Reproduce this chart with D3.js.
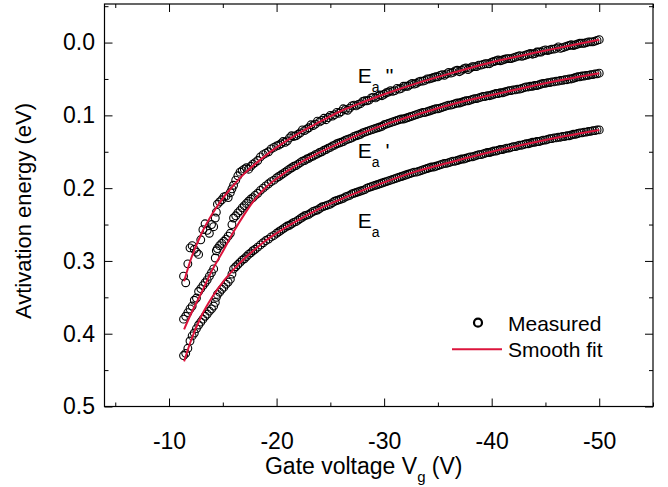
<!DOCTYPE html>
<html>
<head>
<meta charset="utf-8">
<script src="https://cdn.jsdelivr.net/npm/d3@7"></script>
<style>
  body { margin: 0; background: #fff; }
  text { font-family: "Liberation Sans", Arial, sans-serif; fill: #000; }
</style>
</head>
<body>
<svg id="chart" width="668" height="487"></svg>
<script>
// measured gate voltages (V), shared by the three series
const vg = [-11.35, -11.55, -11.75, -11.95, -12.15, -12.35, -12.55, -12.75, -12.95, -13.15,
  -13.35, -13.55, -13.75, -13.95, -14.15, -14.3, -14.4, -14.5, -14.7, -14.9,
  -15.1, -15.3, -15.5, -15.7, -15.85, -16.0, -16.2, -16.4, -16.6, -16.8,
  -17.0, -17.2, -17.4, -17.6, -17.8, -18.0, -18.25, -18.5, -18.75, -19.0,
  -19.25, -19.5, -19.75, -20.0,
  -20.2, -20.4, -20.6, -20.8, -21.0, -21.2, -21.4, -21.6, -21.8, -22.0,
  -22.2, -22.4, -22.6, -22.8, -23.0, -23.2, -23.4, -23.6, -23.8, -24.0,
  -24.2, -24.4, -24.6, -24.8, -25.0, -25.2, -25.4, -25.6, -25.8, -26.0,
  -26.2, -26.4, -26.6, -26.8, -27.0, -27.2, -27.4, -27.6, -27.8, -28.0,
  -28.2, -28.4, -28.6, -28.8, -29.0, -29.2, -29.4, -29.6, -29.8, -30.0,
  -30.2, -30.4, -30.6, -30.8, -31.0, -31.2, -31.4, -31.6, -31.8, -32.0,
  -32.2, -32.4, -32.6, -32.8, -33.0, -33.2, -33.4, -33.6, -33.8, -34.0,
  -34.2, -34.4, -34.6, -34.8, -35.0, -35.2, -35.4, -35.6, -35.8, -36.0,
  -36.2, -36.4, -36.6, -36.8, -37.0, -37.2, -37.4, -37.6, -37.8, -38.0,
  -38.2, -38.4, -38.6, -38.8, -39.0, -39.2, -39.4, -39.6, -39.8, -40.0,
  -40.2, -40.4, -40.6, -40.8, -41.0, -41.2, -41.4, -41.6, -41.8, -42.0,
  -42.2, -42.4, -42.6, -42.8, -43.0, -43.2, -43.4, -43.6, -43.8, -44.0,
  -44.2, -44.4, -44.6, -44.8, -45.0, -45.2, -45.4, -45.6, -45.8, -46.0,
  -46.2, -46.4, -46.6, -46.8, -47.0, -47.2, -47.4, -47.6, -47.8, -48.0,
  -48.2, -48.4, -48.6, -48.8, -49.0, -49.2, -49.4, -49.6, -49.8, -50.0];

// E_a (eV)
const ea = [0.430, 0.427, 0.420, 0.410, 0.403, 0.399, 0.393, 0.388, 0.384, 0.380,
  0.376, 0.373, 0.369, 0.366, 0.362, 0.357, 0.350, 0.346, 0.343, 0.339,
  0.336, 0.332, 0.329, 0.325, 0.318, 0.311, 0.308, 0.305, 0.302, 0.299,
  0.297, 0.294, 0.291, 0.289, 0.286, 0.284, 0.281, 0.278, 0.275, 0.272,
  0.270, 0.267, 0.265, 0.262,
  0.260, 0.258, 0.256, 0.254, 0.252, 0.251, 0.249, 0.247, 0.246, 0.244,
  0.242, 0.240, 0.238, 0.237, 0.236, 0.234, 0.232, 0.231, 0.230, 0.228,
  0.226, 0.225, 0.224, 0.223, 0.222, 0.220, 0.218, 0.217, 0.216, 0.215,
  0.214, 0.212, 0.211, 0.210, 0.208, 0.207, 0.206, 0.205, 0.204, 0.203,
  0.202, 0.200, 0.199, 0.198, 0.197, 0.196, 0.195, 0.194, 0.193, 0.192,
  0.191, 0.190, 0.189, 0.188, 0.187, 0.186, 0.185, 0.184, 0.183, 0.182,
  0.181, 0.180, 0.179, 0.178, 0.178, 0.177, 0.176, 0.175, 0.174, 0.173,
  0.172, 0.171, 0.171, 0.170, 0.169, 0.168, 0.167, 0.166, 0.166, 0.165,
  0.164, 0.163, 0.163, 0.162, 0.161, 0.160, 0.160, 0.159, 0.158, 0.157,
  0.157, 0.156, 0.155, 0.154, 0.154, 0.153, 0.152, 0.151, 0.151, 0.150,
  0.149, 0.149, 0.148, 0.147, 0.147, 0.146, 0.145, 0.145, 0.144, 0.143,
  0.143, 0.142, 0.141, 0.141, 0.140, 0.139, 0.139, 0.138, 0.137, 0.137,
  0.136, 0.136, 0.135, 0.134, 0.134, 0.133, 0.132, 0.132, 0.131, 0.131,
  0.130, 0.130, 0.129, 0.129, 0.128, 0.128, 0.127, 0.126, 0.126, 0.125,
  0.124, 0.124, 0.123, 0.123, 0.122, 0.122, 0.121, 0.121, 0.120, 0.120];

// E_a' (eV)
const eaP = [0.380, 0.376, 0.371, 0.366, 0.362, 0.354, 0.351, 0.342, 0.338, 0.334,
  0.330, 0.326, 0.321, 0.316, 0.311, 0.296, 0.286, 0.283, 0.279, 0.276,
  0.273, 0.270, 0.266, 0.262, 0.250, 0.241, 0.238, 0.234, 0.231, 0.227,
  0.224, 0.221, 0.218, 0.215, 0.213, 0.210, 0.207, 0.203, 0.200, 0.197,
  0.194, 0.191, 0.189, 0.186,
  0.184, 0.182, 0.180, 0.178, 0.176, 0.174, 0.172, 0.170, 0.169, 0.167,
  0.165, 0.163, 0.162, 0.160, 0.159, 0.157, 0.156, 0.154, 0.153, 0.151,
  0.150, 0.148, 0.147, 0.145, 0.144, 0.142, 0.141, 0.139, 0.138, 0.137,
  0.136, 0.134, 0.133, 0.132, 0.131, 0.129, 0.128, 0.127, 0.126, 0.124,
  0.123, 0.122, 0.121, 0.120, 0.119, 0.118, 0.117, 0.116, 0.115, 0.113,
  0.112, 0.111, 0.110, 0.109, 0.108, 0.107, 0.106, 0.105, 0.105, 0.104,
  0.103, 0.102, 0.101, 0.100, 0.099, 0.098, 0.097, 0.096, 0.096, 0.095,
  0.094, 0.093, 0.092, 0.091, 0.091, 0.090, 0.089, 0.088, 0.087, 0.086,
  0.086, 0.085, 0.084, 0.083, 0.083, 0.082, 0.081, 0.080, 0.080, 0.079,
  0.078, 0.077, 0.077, 0.076, 0.075, 0.074, 0.074, 0.073, 0.073, 0.072,
  0.071, 0.070, 0.070, 0.069, 0.069, 0.068, 0.067, 0.066, 0.066, 0.065,
  0.065, 0.064, 0.064, 0.063, 0.062, 0.061, 0.061, 0.060, 0.060, 0.059,
  0.059, 0.058, 0.057, 0.056, 0.056, 0.055, 0.055, 0.054, 0.054, 0.053,
  0.053, 0.052, 0.052, 0.051, 0.051, 0.050, 0.050, 0.049, 0.048, 0.047,
  0.047, 0.046, 0.046, 0.045, 0.045, 0.044, 0.044, 0.043, 0.043, 0.042];

// E_a'' (eV)
const eaPP = [0.321, 0.330, 0.304, 0.282, 0.279, 0.284, 0.288, 0.291, 0.271, 0.257,
  0.249, 0.258, 0.262, 0.250, 0.253, 0.241, 0.233, 0.222, 0.219, 0.216,
  0.212, 0.211, 0.213, 0.206, 0.201, 0.196, 0.189, 0.183, 0.178, 0.176,
  0.174, 0.172, 0.174, 0.170, 0.167, 0.165, 0.162, 0.157, 0.154, 0.152,
  0.150, 0.146, 0.144, 0.142,
  0.141, 0.139, 0.136, 0.137, 0.135, 0.131, 0.128, 0.129, 0.128, 0.126,
  0.124, 0.120, 0.121, 0.119, 0.117, 0.113, 0.114, 0.112, 0.108, 0.109,
  0.107, 0.104, 0.106, 0.103, 0.100, 0.101, 0.099, 0.096, 0.097, 0.095,
  0.091, 0.092, 0.093, 0.090, 0.087, 0.086, 0.087, 0.085, 0.084, 0.081,
  0.080, 0.080, 0.079, 0.076, 0.075, 0.076, 0.074, 0.072, 0.073, 0.071,
  0.069, 0.068, 0.066, 0.067, 0.066, 0.063, 0.064, 0.063, 0.060, 0.060,
  0.060, 0.058, 0.056, 0.057, 0.056, 0.054, 0.053, 0.053, 0.052, 0.050,
  0.050, 0.049, 0.048, 0.047, 0.047, 0.045, 0.044, 0.045, 0.043, 0.041,
  0.042, 0.041, 0.039, 0.038, 0.040, 0.038, 0.036, 0.035, 0.037, 0.035,
  0.033, 0.033, 0.033, 0.031, 0.031, 0.030, 0.029, 0.029, 0.029, 0.027,
  0.026, 0.025, 0.024, 0.025, 0.024, 0.023, 0.022, 0.022, 0.022, 0.021,
  0.020, 0.019, 0.018, 0.019, 0.018, 0.017, 0.016, 0.015, 0.016, 0.015,
  0.013, 0.013, 0.013, 0.011, 0.010, 0.011, 0.010, 0.009, 0.009, 0.008,
  0.006, 0.008, 0.007, 0.006, 0.005, 0.004, 0.003, 0.004, 0.003, 0.002,
  0.001, 0.001, 0.001, 0.000, -0.001, -0.001, -0.001, -0.002, -0.003, -0.004];

// smooth fits
const fitVg = [-11.4, -12, -13, -14, -15, -16, -17, -18, -19, -20, -22, -24, -26, -28, -30, -33, -36, -40, -44, -47, -50];
const fitEa = [0.438, 0.411, 0.376, 0.350, 0.329, 0.312, 0.297, 0.284, 0.272, 0.262, 0.244, 0.228, 0.215, 0.203, 0.192, 0.177, 0.165, 0.150, 0.137, 0.128, 0.120];
const fitEaP = [0.394, 0.374, 0.344, 0.313, 0.287, 0.260, 0.236, 0.215, 0.199, 0.187, 0.167, 0.151, 0.137, 0.124, 0.113, 0.099, 0.086, 0.072, 0.059, 0.050, 0.042];
const fitEaPP = [0.328, 0.299, 0.263, 0.236, 0.214, 0.196, 0.180, 0.167, 0.155, 0.144, 0.125, 0.109, 0.094, 0.082, 0.071, 0.056, 0.043, 0.027, 0.014, 0.005, -0.004];

const xMajor = [-10, -20, -30, -40, -50];
const xMinor = [-5, -15, -25, -35, -45, -55];
const yMajor = [0.0, 0.1, 0.2, 0.3, 0.4, 0.5];
const yMinor = [-0.05, 0.05, 0.15, 0.25, 0.35, 0.45];

const fitColor = "#dc143c";

const svg = d3.select("#chart");
const plotL = 104.5, plotR = 653, plotT = 4, plotB = 406.5;

const x = d3.scaleLinear().domain([-4, -55]).range([plotL, plotR]);
const y = d3.scaleLinear().domain([-0.053, 0.5]).range([plotT, plotB]);

function addAxis(gen, tx, ty) {
    let g = svg.append("g")
        .attr("transform", `translate(${tx},${ty})`)
        .call(gen);
    g.select(".domain").remove();
    g.selectAll("line").attr("stroke", "#000");
    g.selectAll("text").style("font-size", "23px");
    return g;
}

addAxis(d3.axisBottom(x).tickValues(xMajor).tickSize(-8).tickPadding(26).tickFormat(d => String(d)), 0, plotB);
addAxis(d3.axisBottom(x).tickValues(xMinor).tickSize(-4).tickFormat(""), 0, plotB);
addAxis(d3.axisTop(x).tickValues(xMajor).tickSize(-8).tickFormat(""), 0, plotT);
addAxis(d3.axisTop(x).tickValues(xMinor).tickSize(-4).tickFormat(""), 0, plotT);
addAxis(d3.axisLeft(y).tickValues(yMajor).tickSize(-8).tickPadding(9.5).tickFormat(d => d.toFixed(1)), plotL, 0);
addAxis(d3.axisLeft(y).tickValues(yMinor).tickSize(-4).tickFormat(""), plotL, 0);
addAxis(d3.axisRight(y).tickValues(yMajor).tickSize(-8).tickFormat(""), plotR, 0);
addAxis(d3.axisRight(y).tickValues(yMinor).tickSize(-4).tickFormat(""), plotR, 0);

svg.append("rect")
    .attr("x", plotL).attr("y", plotT)
    .attr("width", plotR - plotL).attr("height", plotB - plotT)
    .attr("fill", "none").attr("stroke", "#000").attr("stroke-width", 1.2);

// measured points
const series = [ea, eaP, eaPP];
for (let s in series) {
    svg.append("g").selectAll("circle")
        .data(series[s])
        .join("circle")
        .attr("cx", (d, i) => x(vg[i]))
        .attr("cy", d => y(d))
        .attr("r", 3.9)
        .attr("fill", "none")
        .attr("stroke", "#000")
        .attr("stroke-width", 1.1);
}

// fits
const line = d3.line()
    .x((d, i) => x(fitVg[i]))
    .y(d => y(d))
    .curve(d3.curveMonotoneX);
for (let f of [fitEa, fitEaP, fitEaPP]) {
    svg.append("path")
        .attr("d", line(f))
        .attr("fill", "none")
        .attr("stroke", fitColor)
        .attr("stroke-width", 2);
}

// curve labels
function curveLabel(v, e, primes) {
    let t = svg.append("text")
        .attr("x", x(v)).attr("y", y(e))
        .style("font-size", "21px");
    t.append("tspan").text("E");
    t.append("tspan").attr("dy", 9).style("font-size", "14px").text("a");
    if (primes) t.append("tspan").attr("dy", -9).text(primes);
}
curveLabel(-27.55, 0.0555, " ''");
curveLabel(-27.55, 0.1585, " '");
curveLabel(-27.55, 0.2547, "");

// legend
svg.append("circle")
    .attr("cx", 478).attr("cy", 322.7).attr("r", 4)
    .attr("fill", "none").attr("stroke", "#000").attr("stroke-width", 2.2);
svg.append("text").attr("x", 508).attr("y", 331).style("font-size", "21px").text("Measured");
svg.append("line")
    .attr("x1", 452).attr("x2", 502).attr("y1", 349.3).attr("y2", 349.3)
    .attr("stroke", fitColor).attr("stroke-width", 2);
svg.append("text").attr("x", 508).attr("y", 357).style("font-size", "21px").text("Smooth fit");

// axis titles
let xt = svg.append("text")
    .attr("x", (plotL + plotR) / 2 - 15).attr("y", 474)
    .attr("text-anchor", "middle")
    .style("font-size", "23px");
xt.append("tspan").text("Gate voltage V");
xt.append("tspan").attr("dy", 8).style("font-size", "15px").text("g");
xt.append("tspan").attr("dy", -8).text(" (V)");

svg.append("text")
    .attr("transform", "translate(31,211) rotate(-90)")
    .attr("text-anchor", "middle")
    .style("font-size", "22px")
    .text("Avtivation energy (eV)");
</script>
</body>
</html>
